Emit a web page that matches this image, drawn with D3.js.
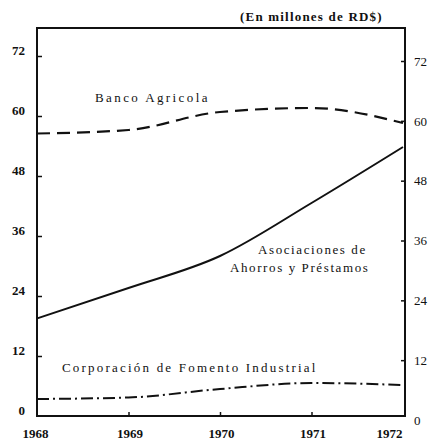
<!DOCTYPE html>
<html>
<head>
<meta charset="utf-8">
<script src="https://cdn.jsdelivr.net/npm/d3@7"></script>
<style>
  body { margin:0; background:#fff; }
  text { font-family:"Liberation Serif","DejaVu Serif",serif; fill:#111; }
  .tick text { font-size:13px; font-weight:bold; }
  .lbl { font-size:13px; letter-spacing:1.6px; }
</style>
</head>
<body>
<div id="chart"></div>
<script>
// years on the x axis
var years=[1968,1969,1970,1971,1972];
// values, millones de RD$
var banco=[56.5,57.2,60.8,61.6,58.6];
var asociaciones=[19.5,25.6,32.0,42.6,53.8];
var corporacion=[3.4,3.7,5.4,6.6,6.2];
var yTicks=[0,12,24,36,48,60,72];

var width=440,height=443;
var mLeft=37,mRight=405,mTop=28,mBottom=416;

var svg=d3.select('#chart').append('svg')
    .attr('width',width)
    .attr('height',height);

var x=d3.scaleLinear().domain([1968,1972]).range([mLeft,mRight-2]);
var y=d3.scaleLinear().domain([0,72]).range([mBottom,56]);
// right side of the scan sits a few px lower
var yR=d3.scaleLinear().domain([0,72]).range([mBottom+4,61]);

// frame
svg.append('rect')
    .attr('x',mLeft).attr('y',mTop)
    .attr('width',mRight-mLeft).attr('height',mBottom-mTop)
    .style('fill','none')
    .style('stroke','#111')
    .style('stroke-width',2);

// left axis
var gl=svg.append('g').attr('transform','translate('+mLeft+',0)')
    .call(d3.axisRight(y).tickValues(yTicks).tickSize(5).tickFormat(function(d){return d;}));
gl.select('.domain').remove();
gl.selectAll('.tick line').style('stroke','#111').style('stroke-width',1.5);
gl.selectAll('.tick text').attr('x',-12).attr('dy','-0.1em').style('text-anchor','end');
gl.selectAll('.tick').filter(function(d){return d==0;}).select('line').remove();

// right axis
var gr=svg.append('g').attr('transform','translate('+mRight+',0)')
    .call(d3.axisLeft(yR).tickValues(yTicks).tickSize(4).tickFormat(function(d){return d;}));
gr.select('.domain').remove();
gr.selectAll('.tick line').style('stroke','#111').style('stroke-width',1.5);
gr.selectAll('.tick text').attr('x',9).style('text-anchor','start').style('font-weight','normal');
gr.selectAll('.tick').filter(function(d){return d==0;}).select('line').remove();

// bottom axis
var gb=svg.append('g').attr('transform','translate(0,'+mBottom+')')
    .call(d3.axisTop(x).tickValues(years).tickSize(4).tickFormat(d3.format('d')));
gb.select('.domain').remove();
gb.selectAll('.tick line').style('stroke','#111').style('stroke-width',1.5);
gb.selectAll('.tick').filter(function(d){return d==1968||d==1972;}).select('line').remove();
gb.selectAll('.tick text')
    .attr('y',22)
    .attr('dx',function(d){return d==1968?-2:(d==1972?-14:1);});

// lines
var line=function(data){
    return d3.line()
        .x(function(d,i){return x(years[i]);})
        .y(function(d){return y(d);})
        .curve(d3.curveMonotoneX)(data);
};

svg.append('path')
    .attr('d',line(banco))
    .style('fill','none').style('stroke','#111')
    .style('stroke-width',2.2)
    .style('stroke-dasharray','13,7');

svg.append('path')
    .attr('d',line(asociaciones))
    .style('fill','none').style('stroke','#111')
    .style('stroke-width',2);

svg.append('path')
    .attr('d',line(corporacion))
    .style('fill','none').style('stroke','#111')
    .style('stroke-width',2)
    .style('stroke-dasharray','12,4,2,4');

// labels
svg.append('text').attr('class','lbl').attr('x',240).attr('y',21)
    .style('font-weight','bold').style('letter-spacing','1.2px').text('(En millones de RD$)');
svg.append('text').attr('class','lbl').attr('x',95).attr('y',102)
    .style('letter-spacing','2.4px').text('Banco Agricola');
svg.append('text').attr('class','lbl').attr('x',258).attr('y',254).text('Asociaciones de');
svg.append('text').attr('class','lbl').attr('x',230).attr('y',272).text('Ahorros y Préstamos');
svg.append('text').attr('class','lbl').attr('x',62).attr('y',372)
    .style('letter-spacing','2.2px').text('Corporación de Fomento Industrial');
</script>
</body>
</html>
